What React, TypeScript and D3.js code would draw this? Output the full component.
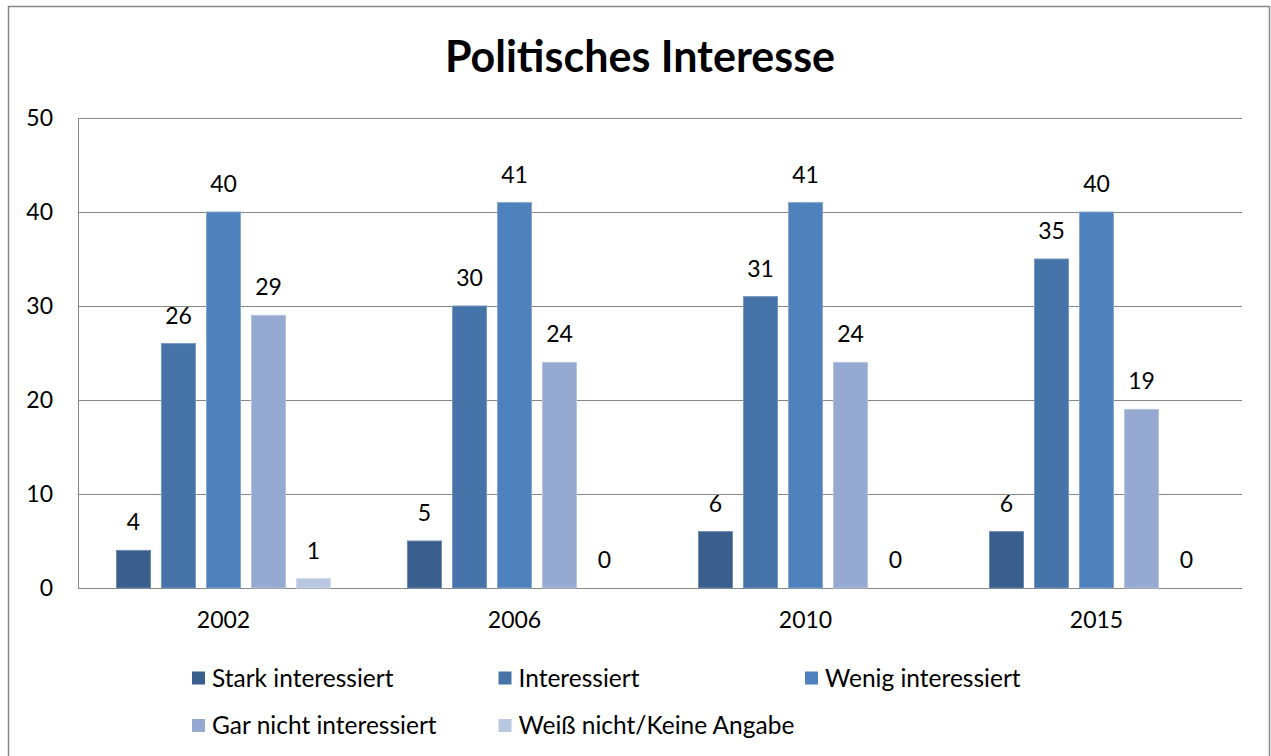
import React from "react";
import * as d3 from "d3";

const years: string[] = ["2002", "2006", "2010", "2015"];
const seriesNames: string[] = [
  "Stark interessiert",
  "Interessiert",
  "Wenig interessiert",
  "Gar nicht interessiert",
  "Weiß nicht/Keine Angabe",
];
const stark: number[] = [4, 5, 6, 6];
const interessiert: number[] = [26, 30, 31, 35];
const wenig: number[] = [40, 41, 41, 40];
const garNicht: number[] = [29, 24, 24, 19];
const weissNicht: number[] = [1, 0, 0, 0];
const yTicks: number[] = [0, 10, 20, 30, 40, 50];

const seriesValues: number[][] = [stark, interessiert, wenig, garNicht, weissNicht];
const colors = ["#3b5f8d", "#4673a8", "#4f81bd", "#95a9d1", "#b9c7e1"];
const strokes = ["#6d8bb0", "#7898c0", "#86a6d0", "#b5c4e0", "#d0dbed"];

const W = 1271;
const H = 756;
const plot = { left: 78, right: 1242, top: 118, bottom: 588 };
const font = "Lato, 'Open Sans', sans-serif";

const App = () => {
  const x0 = d3.scaleBand<string>().domain(years).range([plot.left, plot.right]);
  const x1 = d3
    .scaleBand<string>()
    .domain(seriesNames)
    .range([0, x0.bandwidth()])
    .paddingInner(0.244)
    .paddingOuter(0.855);
  const y = d3.scaleLinear().domain([0, 50]).range([plot.bottom, plot.top]);

  return (
    <svg
      width={W}
      height={H}
      style={{ position: "absolute", left: 0, top: 0, background: "#fff" }}
      fontFamily={font}
    >
      <rect x={8.5} y={6.5} width={1261} height={760} fill="#fff" stroke="#878787" strokeWidth={1.5} />
      <text x={640} y={72} textAnchor="middle" fontSize={43} fontWeight="bold" fill="#000">
        Politisches Interesse
      </text>

      {yTicks.map((t) => (
        <g key={t}>
          <line x1={plot.left} x2={plot.right} y1={Math.round(y(t)) + 0.5} y2={Math.round(y(t)) + 0.5} stroke="#878787" />
          <text x={53} y={y(t)} dy="0.35em" textAnchor="end" fontSize={23} fill="#000">
            {t}
          </text>
        </g>
      ))}
      <line x1={plot.left + 0.5} x2={plot.left + 0.5} y1={plot.top} y2={plot.bottom} stroke="#878787" />

      {years.map((yr, i) => (
        <g key={yr} transform={`translate(${x0(yr)},0)`}>
          {seriesNames.map((s, j) => {
            const v = seriesValues[j][i];
            const bx = x1(s) as number;
            return (
              <g key={s}>
                {v > 0 && (
                  <rect
                    x={bx}
                    y={y(v)}
                    width={x1.bandwidth()}
                    height={y(0) - y(v)}
                    fill={colors[j]}
                    stroke={strokes[j]}
                    strokeWidth={1}
                  />
                )}
                <text x={bx + x1.bandwidth() / 2} y={y(v) - 20} textAnchor="middle" fontSize={23} fill="#000">
                  {v}
                </text>
              </g>
            );
          })}
          <text x={x0.bandwidth() / 2} y={628} textAnchor="middle" fontSize={23} fill="#000">
            {yr}
          </text>
        </g>
      ))}

      {seriesNames.map((s, j) => {
        const col = j % 3;
        const row = Math.floor(j / 3);
        const lx = 192 + col * 306.5;
        const ly = 678 + row * 47.5;
        return (
          <g key={s}>
            <rect x={lx} y={ly - 6.5} width={13} height={13} fill={colors[j]} />
            <text x={lx + 20} y={ly} dy="0.36em" fontSize={24.5} fill="#000">
              {s}
            </text>
          </g>
        );
      })}
    </svg>
  );
};

export default App;
